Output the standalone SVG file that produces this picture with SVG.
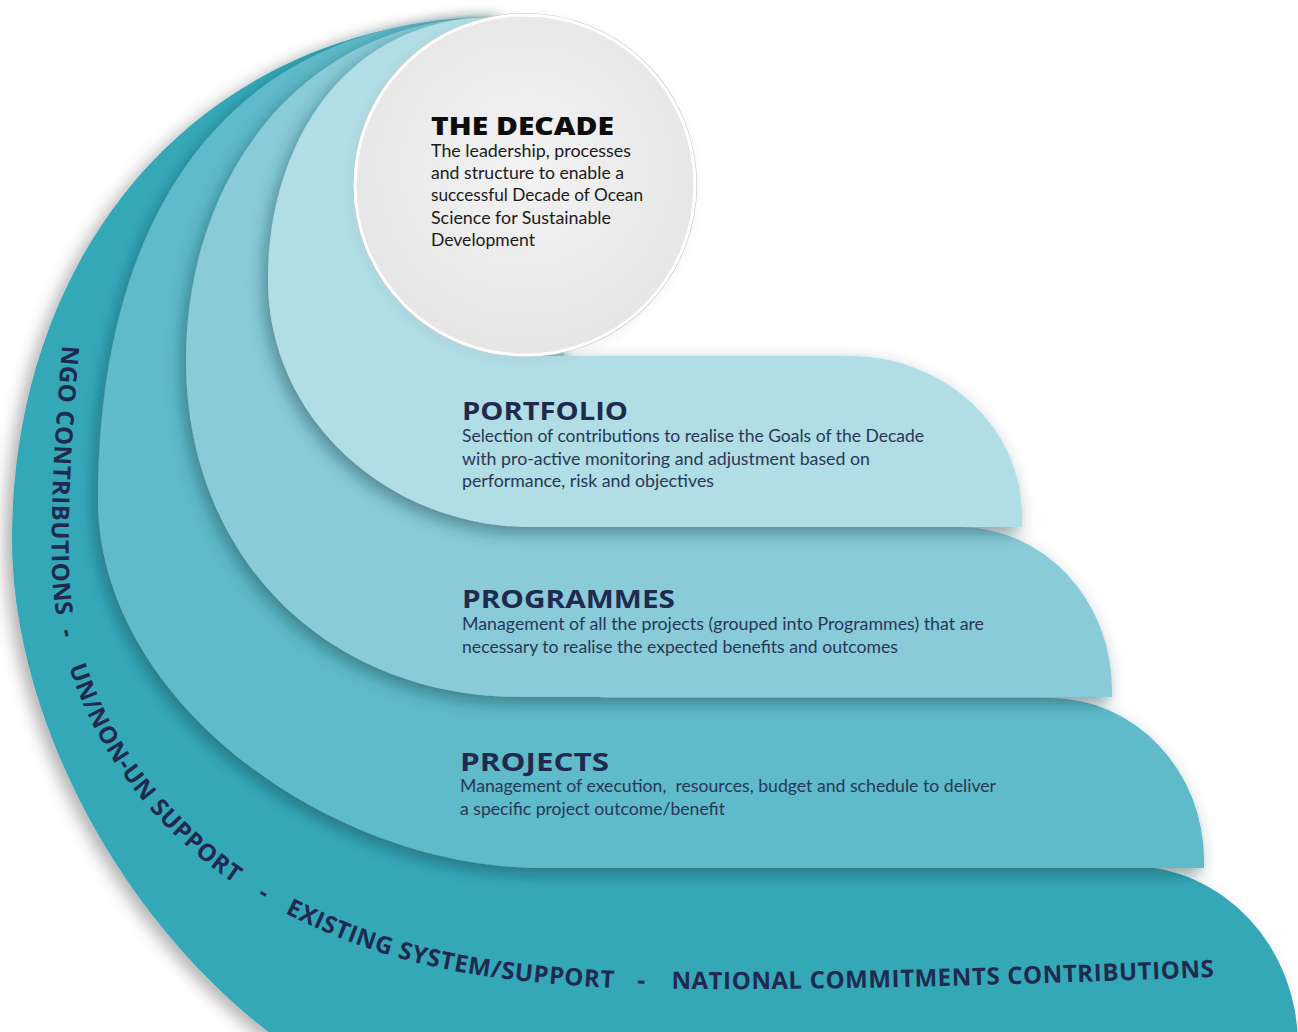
<svg xmlns="http://www.w3.org/2000/svg" width="1298" height="1032" viewBox="0 0 1298 1032">
<defs>
  <filter id="shOuter" x="-15%" y="-15%" width="140%" height="140%">
    <feDropShadow dx="-7" dy="5" stdDeviation="8" flood-color="#000000" flood-opacity="0.3"/>
  </filter>
  <filter id="shLayer" x="-15%" y="-15%" width="140%" height="140%">
    <feDropShadow dx="-4" dy="6" stdDeviation="8" flood-color="#0b3f48" flood-opacity="0.5"/>
  </filter>
  <filter id="shCircle" x="-20%" y="-20%" width="140%" height="140%">
    <feDropShadow dx="-2" dy="3" stdDeviation="4" flood-color="#000000" flood-opacity="0.22"/>
  </filter>
  <radialGradient id="gCircle" cx="50%" cy="45%" r="55%">
    <stop offset="0" stop-color="#f3f3f3"/>
    <stop offset="1" stop-color="#e6e6e6"/>
  </radialGradient>
  <path id="ringPath" d="M 63,335 C 56,420 50,500 52,570 C 55,700 140,840 283,912 C 370,956 450,980 616,988 C 800,992 1000,985 1240,976"/>
</defs>
<style>
  .head{font-family:"Open Sans","Liberation Sans",sans-serif;font-weight:700;fill:#1f2a4e}
  .body{font-family:Lato,"Liberation Sans",sans-serif;font-size:17.5px;fill:#283758}
  .dbody{font-family:Lato,"Liberation Sans",sans-serif;font-size:17.5px;fill:#1b1b1b}
  .ring{font-family:"Open Sans","Liberation Sans",sans-serif;font-weight:700;font-size:24px;letter-spacing:0.6px;fill:#1f2a4e}
</style>
<rect width="1298" height="1032" fill="#ffffff"/>

<g id="layer-outer">
  <path filter="url(#shOuter)" fill="#36a8b8" d="M 500,17 C 200,20 12,250 12,540 C 12,800 250,1150 600,1150 L 1298,1150 L 1298,1045 A 168 179 0 0 0 1130,866 L 600,866 L 600,520 L 525,185 Z"/>
  <text class="ring"><textPath href="#ringPath" startOffset="10">NGO CONTRIBUTIONS</textPath></text>
  <text class="ring"><textPath href="#ringPath" startOffset="297">-</textPath></text>
  <text class="ring"><textPath href="#ringPath" startOffset="334">UN/NON-UN SUPPORT</textPath></text>
  <text class="ring"><textPath href="#ringPath" startOffset="638">-</textPath></text>
  <text class="ring"><textPath href="#ringPath" startOffset="670">EXISTING SYSTEM/SUPPORT</textPath></text>
  <text class="ring"><textPath href="#ringPath" startOffset="1034">-</textPath></text>
  <text class="ring"><textPath href="#ringPath" startOffset="1068">NATIONAL COMMITMENTS CONTRIBUTIONS</textPath></text>
</g>

<g id="layer-projects">
  <path filter="url(#shLayer)" fill="#5fbac9" d="M 500,17 C 240,15 98,200 98,500 C 98,700 330,868 540,868 L 1204,868 L 1204,860 A 154 162 0 0 0 1050,698 L 600,698 L 600,520 L 525,185 Z"/>
  <text class="head" x="460" y="771" font-size="25" textLength="149" lengthAdjust="spacingAndGlyphs">PROJECTS</text>
  <text class="body" x="460" y="792" textLength="536" lengthAdjust="spacingAndGlyphs">Management of execution,&#160; resources, budget and schedule to deliver</text>
  <text class="body" x="460" y="815" textLength="265" lengthAdjust="spacingAndGlyphs">a specific project outcome/benefit</text>
</g>

<g id="layer-programmes">
  <path filter="url(#shLayer)" fill="#89cbd8" d="M 500,17 C 300,15 186,180 186,360 C 186,560 330,697 520,697 L 1112,697 L 1112,690 A 152 163 0 0 0 960,527 L 600,527 L 600,520 L 525,185 Z"/>
  <text class="head" x="462" y="608" font-size="25" textLength="213" lengthAdjust="spacingAndGlyphs">PROGRAMMES</text>
  <text class="body" x="462" y="630" textLength="522" lengthAdjust="spacingAndGlyphs">Management of all the projects (grouped into Programmes) that are</text>
  <text class="body" x="462" y="653" textLength="436" lengthAdjust="spacingAndGlyphs">necessary to realise the expected benefits and outcomes</text>
</g>

<g id="layer-portfolio">
  <path filter="url(#shLayer)" fill="#b1dde4" d="M 500,17 C 340,15 268,150 268,280 C 268,420 390,527 530,527 L 1022,527 L 1022,516 A 172 160 0 0 0 850,356 L 525,356 L 525,185 Z"/>
  <text class="head" x="462" y="420" font-size="25" textLength="166" lengthAdjust="spacingAndGlyphs">PORTFOLIO</text>
  <text class="body" x="462" y="442" textLength="462" lengthAdjust="spacingAndGlyphs">Selection of contributions to realise the Goals of the Decade</text>
  <text class="body" x="462" y="465" textLength="408" lengthAdjust="spacingAndGlyphs">with pro-active monitoring and adjustment based on</text>
  <text class="body" x="462" y="487" textLength="252" lengthAdjust="spacingAndGlyphs">performance, risk and objectives</text>
</g>

<g id="the-decade">
  <circle cx="525" cy="185" r="171.5" fill="none" stroke="#c4c4c4" stroke-width="1.2" filter="url(#shCircle)"/>
  <circle cx="525" cy="185" r="170" fill="url(#gCircle)" stroke="#ffffff" stroke-width="3"/>
  <text class="head" x="431" y="135" font-size="25" style="fill:#0d0d0d;font-weight:800" textLength="183" lengthAdjust="spacingAndGlyphs">THE DECADE</text>
  <text class="dbody" x="431" y="157" textLength="200" lengthAdjust="spacingAndGlyphs">The leadership, processes</text>
  <text class="dbody" x="431" y="179" textLength="193" lengthAdjust="spacingAndGlyphs">and structure to enable a</text>
  <text class="dbody" x="431" y="201" textLength="212" lengthAdjust="spacingAndGlyphs">successful Decade of Ocean</text>
  <text class="dbody" x="431" y="224" textLength="180" lengthAdjust="spacingAndGlyphs">Science for Sustainable</text>
  <text class="dbody" x="431" y="246" textLength="104" lengthAdjust="spacingAndGlyphs">Development</text>
</g>

<g id="connectors"></g>
</svg>
